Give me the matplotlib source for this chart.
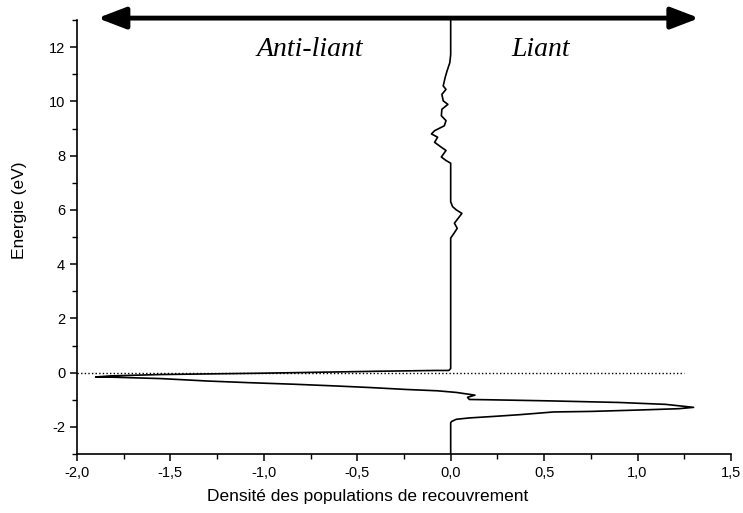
import numpy as np
import matplotlib
matplotlib.use("Agg")
import matplotlib.pyplot as plt
from matplotlib.ticker import MultipleLocator, FuncFormatter

OUT_FILE = "out.png"

# overlap population density (x) vs energy (y), traced from top to bottom
density = [0.0, 0.0, -0.005, -0.02, -0.03, -0.04, -0.025, -0.047, -0.04, -0.015,
           -0.047, -0.05, -0.025, -0.034, -0.086, -0.103, -0.07, -0.086, -0.05,
           -0.025, -0.05, -0.025, 0.0, 0.0, 0.01, 0.03, 0.06, 0.04, 0.02, 0.035,
           0.018, 0.0, 0.0, -0.01,
           # anti-bonding excursion (upper edge)
           -0.08, -0.40, -1.00, -1.55, -1.82, -1.90,
           # lower edge coming back
           -1.80, -1.55, -1.30, -1.08, -0.83, -0.62, -0.43, -0.24, -0.07, 0.03,
           0.13, 0.09, 0.10,
           # bonding peak
           0.20, 0.52, 0.90, 1.15, 1.30, 1.22, 1.00, 0.75, 0.55, 0.46, 0.37,
           0.24, 0.10, 0.03, 0.005, 0.0, 0.0]
energy = [13.0, 11.72, 11.42, 11.11, 10.87, 10.57, 10.44, 10.26, 10.02, 9.89,
          9.71, 9.47, 9.29, 9.10, 8.92, 8.80, 8.68, 8.49, 8.31,
          8.19, 7.95, 7.82, 7.72, 6.30, 6.12, 6.00, 5.87, 5.69, 5.51, 5.32,
          5.14, 4.96, 0.15, 0.08,
          0.08, 0.05, -0.02, -0.07, -0.12, -0.16,
          -0.17, -0.22, -0.31, -0.37, -0.43, -0.49, -0.55, -0.62, -0.67, -0.73,
          -0.83, -0.91, -0.99,
          -1.00, -1.04, -1.10, -1.17, -1.28, -1.33, -1.38, -1.43, -1.45, -1.50, -1.55,
          -1.61, -1.67, -1.72, -1.80, -1.85, -3.0]

fermi_level = 0.0
fermi_x = [-2.0, 1.25]

x_ticks = [-2.0, -1.5, -1.0, -0.5, 0.0, 0.5, 1.0, 1.5]
y_ticks = [-2, 0, 2, 4, 6, 8, 10, 12]

arrow_x = [-1.89, 1.33]
arrow_y = 13.07

plt.rcParams["font.family"] = ["Liberation Sans", "DejaVu Sans"]
plt.rcParams["axes.unicode_minus"] = False

fig = plt.figure(figsize=(7.43, 5.13), dpi=100, facecolor="white")
ax = fig.add_axes([0.1036, 0.115, 0.8802, 0.846])

ax.plot(density, energy, color="black", lw=1.2)
ax.plot(fermi_x, [fermi_level, fermi_level], color="black", lw=1.0, ls=(0, (1, 1.6)))

ax.set_xlim(-2.0, 1.5)
ax.set_ylim(-3, 13)
ax.set_xticks(x_ticks)
ax.set_yticks(y_ticks)
ax.xaxis.set_minor_locator(MultipleLocator(0.25))
ax.yaxis.set_minor_locator(MultipleLocator(1))
# french decimal comma
ax.xaxis.set_major_formatter(FuncFormatter(lambda v, p: f"{v:.1f}".replace(".", ",")))

for s in ["top", "right"]:
    ax.spines[s].set_visible(False)
for s in ["left", "bottom"]:
    ax.spines[s].set_linewidth(1.2)

ax.tick_params(which="major", direction="out", length=5, width=1.1, labelsize=10.5)
ax.tick_params(which="minor", direction="out", length=3.5, width=1.0)

fig.text(367.5 / 743, 1 - 497 / 513, "Densité des populations de recouvrement",
         ha="center", va="center", fontsize=12.5)
fig.text(20 / 743, 1 - 210 / 513, "Energie (eV)", rotation=90,
         ha="center", va="center", fontsize=12.5)

# bonding / anti-bonding double arrow
ax.annotate("", xy=(arrow_x[0], arrow_y), xytext=(arrow_x[1], arrow_y),
            arrowprops=dict(arrowstyle="<|-|>,head_length=1.7,head_width=0.65",
                            color="black", lw=3.5, shrinkA=0, shrinkB=0,
                            mutation_scale=10),
            annotation_clip=False)

ax.text(-0.755, 11.9, "Anti-liant", family="Liberation Serif", style="italic",
        fontsize=20, ha="center", va="center")
ax.text(0.48, 11.9, "Liant", family="Liberation Serif", style="italic",
        fontsize=20, ha="center", va="center")

plt.savefig(OUT_FILE, dpi=100, facecolor="white")
plt.close()
